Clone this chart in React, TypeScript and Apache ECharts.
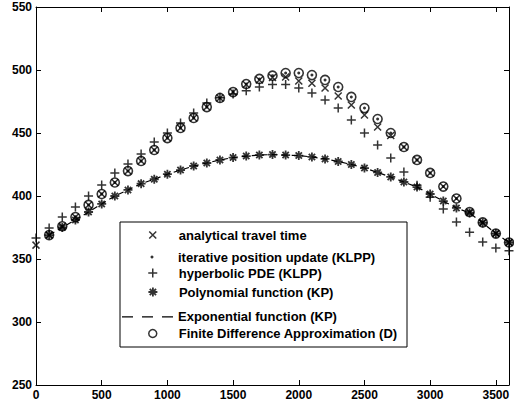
import React, { useEffect, useRef } from "react";
import * as echarts from "echarts";

// Offset along the path (x axis)
const distance = [
  0, 100, 200, 300, 400, 500, 600, 700, 800, 900, 1000, 1100, 1200, 1300, 1400, 1500, 1600, 1700, 1800,
  1900, 2000, 2100, 2200, 2300, 2400, 2500, 2600, 2700, 2800, 2900, 3000, 3100, 3200, 3300, 3400, 3500, 3600,
];

const analyticalTravelTime = [
  361, 369, 376, 383.3, 392.9, 401.6, 410.7, 419.8, 427.8, 436.5, 446, 454, 461.9, 470.6, 477.8, 482.5, 488.5,
  492, 494, 494.5, 491.3, 489.5, 485.7, 479.4, 472.2, 464.3, 454.8, 448, 438.9, 428.6, 418.3, 407.5, 398, 387.3,
  379, 370.2, 363.1,
];

const iterativePositionUpdate = [
  null, 369, 376, 383.3, 392.9, 401.6, 410.7, 419.8, 427.8, 436.5, 446, 454, 461.9, 470.6, 477.8, 482.5, 488.9,
  492.9, 495.5, 497.6, 497.6, 496, 492.1, 486.5, 478.6, 469.8, 461.1, 450, 438.9, 428.6, 418.3, 407.5, 398,
  387.3, 379, 370.2, 363.1,
];

const hyperbolicPde = [
  366.7, 374.6, 383.3, 391.3, 400, 408.7, 418.3, 425.4, 433.3, 442.9, 450, 457.9, 465.9, 473.8, 478, 481, 483.5,
  486.5, 488.5, 488.5, 485.7, 481.7, 476.2, 469.8, 460.3, 450, 440.5, 430.2, 419, 408.5, 399, 389.7, 379.4,
  371.2, 363.5, 358.7, 356.5,
];

const polynomialFn = [
  null, 369, 375, 381, 387.3, 393.7, 400, 404.8, 409.8, 413.3, 417.3, 420.6, 423.8, 426.2, 428.6, 430.5, 431.7,
  432.5, 432.9, 432.5, 432.1, 431, 429.4, 427.4, 425, 422.2, 418.7, 415.1, 411.1, 407.1, 401.6, 396, 390.5,
  386.5, 378.6, 370.2, 363.1,
];

const exponentialFn = [
  null, 369, 375, 381, 387.3, 393.7, 400, 404.8, 409.8, 413.3, 417.3, 420.6, 423.8, 426.2, 428.6, 430.5, 431.7,
  432.5, 432.9, 432.5, 432.1, 431, 429.4, 427.4, 425, 422.2, 418.7, 415.1, 411.1, 407.1, 401.6, 396, 390.5,
  386.5, 378.6, 370.2, 363.1,
];

const finiteDifference = [
  null, 369, 376, 383.3, 392.9, 401.6, 410.7, 419.8, 427.8, 436.5, 446, 454, 461.9, 470.6, 477.8, 482.5, 488.9,
  492.9, 495.5, 497.6, 497.6, 496, 492.1, 486.5, 478.6, 469.8, 461.1, 450, 438.9, 428.6, 418.3, 407.5, 398,
  387.3, 379, 370.2, 363.1,
];

const seriesNames = [
  "analytical travel time",
  "iterative position update (KLPP)",
  "hyperbolic PDE (KLPP)",
  "Polynomial function (KP)",
  "Exponential function (KP)",
  "Finite Difference Approximation (D)",
];

const xTickLabels = ["0", "500", "1000", "1500", "2000", "2500", "3000", "3500"];
const yTickLabels = ["250", "300", "350", "400", "450", "500", "550"];

const CROSS = "path://M0,0L10,10M10,0L0,10";
const PLUS = "path://M5,0L5,10M0,5L10,5";
const STAR = "path://M5,0L5,10M0,5L10,5M1.5,1.5L8.5,8.5M8.5,1.5L1.5,8.5";
// three short dashes for the legend key of the dashed curve
const DASHES = "path://M0,0h11v1.3h-11zM20,0h11v1.3h-11zM40,0h11v1.3h-11z";

const FONT = "'Liberation Sans', Arial, Helvetica, sans-serif";

function pairs(values: (number | null)[]) {
  const out: [number, number][] = [];
  values.forEach((v, i) => {
    if (v !== null) out.push([distance[i], v]);
  });
  return out;
}

const strokeOnly = (w: number) => ({ color: "transparent", borderColor: "#000", borderWidth: w });

export default function App() {
  const ref = useRef<HTMLDivElement>(null);

  useEffect(() => {
    if (!ref.current) return;
    const chart = echarts.init(ref.current, undefined, { renderer: "svg" });

    const axisCommon = {
      axisLine: { show: true, onZero: false, lineStyle: { color: "#000", width: 1 } },
      axisTick: { show: true, inside: true, length: 5, lineStyle: { color: "#000", width: 1 } },
      splitLine: { show: false },
    };
    const labelStyle = {
      color: "#000",
      fontSize: 12,
      fontFamily: FONT,
      fontWeight: "bold" as const,
    };
    const legendText = {
      color: "#000",
      fontSize: 13,
      fontFamily: FONT,
      fontWeight: "bold" as const,
    };

    // Legend: one component per row so each key keeps its own size
    const rowY = [232, 252, 271, 290, 311, 331];
    const markerX = 152;
    const textX = 178;
    const legendRow = (i: number, size: number, icon: string, itemStyle: any) => ({
      show: true,
      data: [{ name: seriesNames[i], icon }],
      orient: "vertical",
      left: markerX - size / 2,
      top: rowY[i] - size / 2,
      padding: 0,
      itemWidth: size,
      itemHeight: size,
      itemStyle,
      selectedMode: false,
      textStyle: {
        ...legendText,
        padding: [0, 0, 0, textX - (markerX + size / 2) - 5],
      },
      z: 5,
    });

    const option: any = {
      animation: false,
      grid: { left: 36, right: 5, top: 7, bottom: 19, containLabel: false },
      xAxis: [
        {
          type: "value",
          min: 0,
          max: 3600,
          interval: 500,
          ...axisCommon,
          axisLabel: {
            ...labelStyle,
            margin: 4,
            showMaxLabel: false,
            formatter: (v: number) => {
              const s = String(v);
              return xTickLabels.includes(s) ? s : "";
            },
          },
        },
        {
          type: "value",
          position: "top",
          min: 0,
          max: 3600,
          interval: 500,
          ...axisCommon,
          axisLabel: { show: false },
        },
      ],
      yAxis: [
        {
          type: "value",
          min: 250,
          max: 550,
          interval: 50,
          ...axisCommon,
          axisLabel: {
            ...labelStyle,
            margin: 4,
            formatter: (v: number) => {
              const s = String(v);
              return yTickLabels.includes(s) ? s : "";
            },
          },
        },
        {
          type: "value",
          position: "right",
          min: 250,
          max: 550,
          interval: 50,
          ...axisCommon,
          axisLabel: { show: false },
        },
      ],
      graphic: [
        {
          type: "rect",
          shape: { x: 120, y: 222, width: 287, height: 125 },
          style: { fill: "#fff", stroke: "#000", lineWidth: 1 },
          z: 3,
          silent: true,
        },
      ],
      legend: [
        legendRow(0, 7, CROSS, strokeOnly(1.5)),
        legendRow(1, 3, "circle", { color: "#000", borderWidth: 0 }),
        legendRow(2, 9, PLUS, strokeOnly(1.5)),
        legendRow(3, 9, STAR, strokeOnly(1.8)),
        {
          show: true,
          data: [{ name: seriesNames[4], icon: DASHES }],
          left: 122,
          top: rowY[4] - 0.65,
          padding: 0,
          itemWidth: 51,
          itemHeight: 1.3,
          itemStyle: { color: "#000", borderWidth: 0 },
          selectedMode: false,
          textStyle: legendText,
          z: 5,
        },
        legendRow(5, 8, "circle", strokeOnly(1.5)),
      ],
      series: [
        {
          name: seriesNames[0],
          type: "scatter",
          data: pairs(analyticalTravelTime),
          symbol: CROSS,
          symbolSize: 7,
          itemStyle: strokeOnly(1.5),
          silent: true,
        },
        {
          name: seriesNames[1],
          type: "scatter",
          data: pairs(iterativePositionUpdate),
          symbol: "circle",
          symbolSize: 3,
          itemStyle: { color: "#000" },
          silent: true,
        },
        {
          name: seriesNames[2],
          type: "scatter",
          data: pairs(hyperbolicPde),
          symbol: PLUS,
          symbolSize: 9,
          itemStyle: strokeOnly(1.5),
          silent: true,
        },
        {
          name: seriesNames[3],
          type: "scatter",
          data: pairs(polynomialFn),
          symbol: STAR,
          symbolSize: 9,
          itemStyle: strokeOnly(1.8),
          silent: true,
        },
        {
          name: seriesNames[4],
          type: "line",
          data: pairs(exponentialFn),
          symbol: "none",
          lineStyle: { color: "#000", width: 1.2, type: [6, 4] },
          itemStyle: { color: "#000" },
          silent: true,
        },
        {
          name: seriesNames[5],
          type: "scatter",
          data: pairs(finiteDifference),
          symbol: "circle",
          symbolSize: 9,
          itemStyle: strokeOnly(1.6),
          silent: true,
        },
      ],
    };

    chart.setOption(option);
    return () => chart.dispose();
  }, []);

  return (
    <div
      ref={ref}
      style={{ position: "fixed", left: 0, top: 0, width: 514, height: 404, background: "#fff" }}
    />
  );
}
